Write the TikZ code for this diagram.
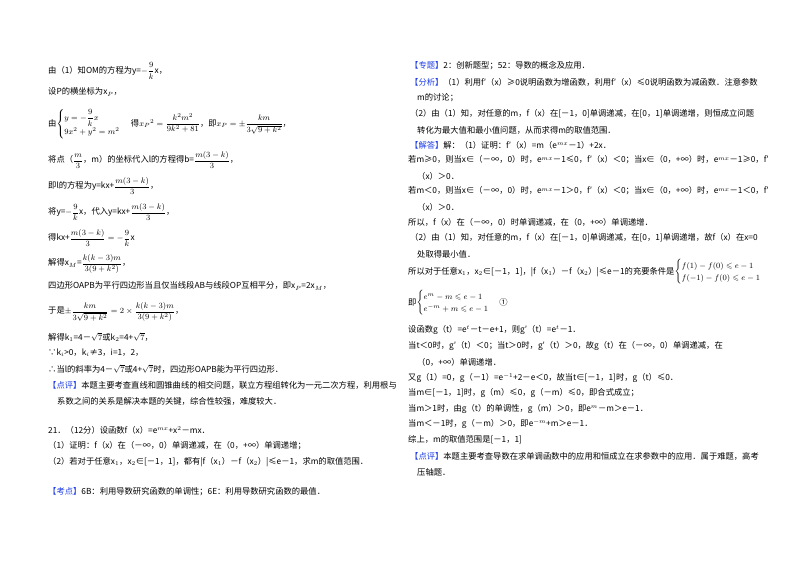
\documentclass[tikz,border=0pt]{standalone}
\usepackage{amsmath,amssymb}
\usepackage{fontspec}
\setmainfont{Noto Sans CJK SC}
\definecolor{tagblue}{RGB}{30,60,230}
\newcommand{\tagb}[1]{{\color{tagblue}【#1】}}
\let\frac\dfrac
\begin{document}
\begin{tikzpicture}[x=1pt,y=-1pt,
  t/.style={anchor=west,inner sep=0pt,font=\fontsize{8.3}{10}\selectfont}]
\useasboundingbox (0,0) rectangle (800,565);
\fill[white] (0,0) rectangle (800,565);
% left column
\node[t] (l1) at (48,71) {由（1）知OM的方程为y=$-\frac{9}{k}$x，};
\node[t] (l2) at (48,92) {设P的横坐标为x$_P$，};
\node[t] (l3) at (48,124) {由$\begin{cases} y=-\frac{9}{k}x\\ 9x^2+y^2=m^2\end{cases}$ 得$x_P{}^2=\frac{k^2m^2}{9k^2+81}$，即$x_P=\pm\frac{km}{3\sqrt{9+k^2}}$，};
\node[t] (l4) at (48,160) {将点（$\frac{m}{3}$，m）的坐标代入l的方程得b=$\frac{m(3-k)}{3}$，};
\node[t] (l5) at (48,186) {即l的方程为y=kx+$\frac{m(3-k)}{3}$，};
\node[t] (l6) at (48,212) {将y=$-\frac{9}{k}$x，代入y=kx+$\frac{m(3-k)}{3}$，};
\node[t] (l7) at (48,238) {得kx+$\frac{m(3-k)}{3}=-\frac{9}{k}$x};
\node[t] (l8) at (48,264) {解得x$_M$=$\frac{k(k-3)m}{3(9+k^2)}$，};
\node[t] (l9) at (48,286) {四边形OAPB为平行四边形当且仅当线段AB与线段OP互相平分，即x$_P$=2x$_M$，};
\node[t] (l10) at (48,312) {于是$\pm\frac{km}{3\sqrt{9+k^2}}=2\times\frac{k(k-3)m}{3(9+k^2)}$，};
\node[t] (l11) at (48,337) {解得k$_1$=4－$\sqrt7$或k$_2$=4+$\sqrt7$，};
\node[t] (l12) at (48,353) {∵k$_i$>0，k$_i$≠3，i=1，2，};
\node[t] (l13) at (48,369) {∴当l的斜率为4－$\sqrt7$或4+$\sqrt7$时，四边形OAPB能为平行四边形．};
\node[t] (l14) at (48,385) {\tagb{点评}本题主要考查直线和圆锥曲线的相交问题，联立方程组转化为一元二次方程，利用根与};
\node[t] (l15) at (57,401) {系数之间的关系是解决本题的关键，综合性较强，难度较大．};
\node[t] (l16) at (48,430) {21．（12分）设函数f（x）=e$^{mx}$+x$^2$－mx．};
\node[t] (l17) at (48,446) {（1）证明：f（x）在（－∞，0）单调递减，在（0，+∞）单调递增；};
\node[t] (l18) at (48,462) {（2）若对于任意x$_1$，x$_2$∈[－1，1]，都有|f（x$_1$）－f（x$_2$）|≤e－1，求m的取值范围．};
\node[t] (l19) at (48,492) {\tagb{考点}6B：利用导数研究函数的单调性；6E：利用导数研究函数的最值．};
% right column
\node[t] (r1) at (410,66) {\tagb{专题}2：创新题型；52：导数的概念及应用．};
\node[t] (r2) at (410,82) {\tagb{分析}（1）利用f′（x）≥0说明函数为增函数，利用f′（x）≤0说明函数为减函数．注意参数};
\node[t] (r3) at (417,98) {m的讨论；};
\node[t] (r4) at (410,114) {（2）由（1）知，对任意的m，f（x）在[－1，0]单调递减，在[0，1]单调递增，则恒成立问题};
\node[t] (r5) at (417,130) {转化为最大值和最小值问题，从而求得m的取值范围．};
\node[t] (r6) at (410,145) {\tagb{解答}解：（1）证明：f′（x）=m（e$^{mx}$－1）+2x．};
\node[t] (r7) at (408,160) {若m≥0，则当x∈（－∞，0）时，e$^{mx}$－1≤0，f′（x）＜0；当x∈（0，+∞）时，e$^{mx}$－1≥0，f′};
\node[t] (r8) at (417,176) {（x）＞0．};
\node[t] (r9) at (408,191) {若m＜0，则当x∈（－∞，0）时，e$^{mx}$－1＞0，f′（x）＜0；当x∈（0，+∞）时，e$^{mx}$－1＜0，f′};
\node[t] (r10) at (417,207) {（x）＞0．};
\node[t] (r11) at (408,222) {所以，f（x）在（－∞，0）时单调递减，在（0，+∞）单调递增．};
\node[t] (r12) at (410,238) {（2）由（1）知，对任意的m，f（x）在[－1，0]单调递减，在[0，1]单调递增，故f（x）在x=0};
\node[t] (r13) at (417,254) {处取得最小值．};
\node[t] (r14) at (408,272) {所以对于任意x$_1$，x$_2$∈[－1，1]，|f（x$_1$）－f（x$_2$）|≤e－1的充要条件是$\begin{cases}f(1)-f(0)\leqslant e-1\\ f(-1)-f(0)\leqslant e-1\end{cases}$};
\node[t] (r15) at (408,303) {即$\begin{cases}e^m-m\leqslant e-1\\ e^{-m}+m\leqslant e-1\end{cases}$ ①};
\node[t] (r16) at (408,330) {设函数g（t）=e$^t$－t－e+1，则g′（t）=e$^t$－1．};
\node[t] (r17) at (408,346) {当t＜0时，g′（t）＜0；当t＞0时，g′（t）＞0，故g（t）在（－∞，0）单调递减，在};
\node[t] (r18) at (417,362) {（0，+∞）单调递增．};
\node[t] (r19) at (408,378) {又g（1）=0，g（－1）=e$^{-1}$+2－e＜0，故当t∈[－1，1]时，g（t）≤0．};
\node[t] (r20) at (408,393) {当m∈[－1，1]时，g（m）≤0，g（－m）≤0，即合式成立；};
\node[t] (r21) at (408,409) {当m＞1时，由g（t）的单调性，g（m）＞0，即e$^m$－m＞e－1．};
\node[t] (r22) at (408,424) {当m＜－1时，g（－m）＞0，即e$^{-m}$+m＞e－1．};
\node[t] (r23) at (408,440) {综上，m的取值范围是[－1，1]};
\node[t] (r24) at (410,456) {\tagb{点评}本题主要考查导数在求单调函数中的应用和恒成立在求参数中的应用．属于难题，高考};
\node[t] (r25) at (417,472) {压轴题．};
\end{tikzpicture}
\end{document}
